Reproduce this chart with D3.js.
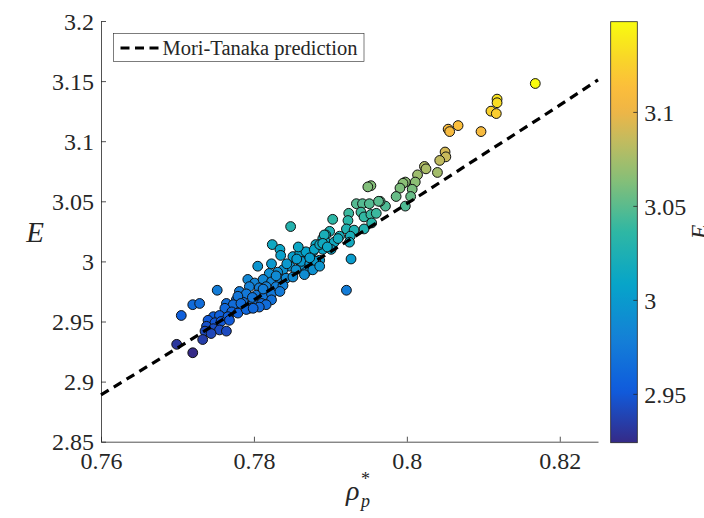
<!DOCTYPE html>
<html><head><meta charset="utf-8">
<script src="https://cdn.jsdelivr.net/npm/d3@7"></script>
<style>body{margin:0;background:#fff}svg{display:block}</style>
</head><body><svg id="c" width="704" height="518"></svg>
<script>
const rho = [0.8168,0.8118,0.8118,0.8110,0.8117,0.8067,0.8054,0.8056,0.8097,0.8050,0.8051,0.8043,0.8023,0.8025,0.8040,0.8014,0.8011,0.7998,0.7995,0.8007,0.7991,0.7986,0.8005,0.7998,0.7972,0.7965,0.7953,0.7949,0.7934,0.7942,0.7951,0.7963,0.7924,0.7940,0.7944,0.7953,0.7960,0.7954,0.7903,0.7923,0.7921,0.7931,0.7944,0.7926,0.7925,0.7912,0.7899,0.7894,0.7890,0.7894,0.7905,0.7881,0.7890,0.7901,0.7877,0.7866,0.7873,0.7927,0.7886,0.7868,0.7879,0.7862,0.7848,0.7824,0.7834,0.7835,0.7805,0.7823,0.7851,0.7860,0.7868,0.7879,0.7886,0.7892,0.7890,0.7862,0.7873,0.7881,0.7847,0.7855,0.7838,0.7831,0.7820,0.7868,0.7877,0.7886,0.7866,0.7792,0.7801,0.7812,0.7823,0.7834,0.7842,0.7851,0.7794,0.7807,0.7816,0.7829,0.7838,0.7781,0.7790,0.7803,0.7814,0.7823,0.7834,0.7777,0.7786,0.7799,0.7810,0.7823,0.7816,0.7773,0.7794,0.7807,0.7752,0.7720,0.7729,0.7705,0.7779,0.7764,0.7773,0.7762,0.7771,0.7779,0.7790,0.7799,0.7747,0.7755,0.7766,0.7740,0.7749,0.7757,0.7768,0.7738,0.7747,0.7755,0.7764,0.7736,0.7744,0.7733,0.7720,0.7699,0.7921,0.7856,0.7843,0.7829,0.7812,0.7798,0.7783,0.7896,0.7910,0.7873,0.7858];
const E = [3.148,3.135,3.132,3.125,3.123,3.113,3.110,3.108,3.108,3.091,3.087,3.084,3.079,3.077,3.074,3.072,3.066,3.066,3.065,3.060,3.061,3.054,3.054,3.046,3.046,3.050,3.063,3.062,3.048,3.048,3.048,3.050,3.040,3.041,3.037,3.039,3.040,3.032,3.035,3.034,3.027,3.026,3.027,3.021,3.016,3.021,3.025,3.022,3.019,3.016,3.016,3.014,3.010,3.010,3.008,3.007,3.004,3.002,3.001,3.000,2.997,2.997,3.029,3.014,3.010,3.005,2.996,2.998,3.004,3.007,3.008,3.010,3.014,3.022,3.015,3.000,2.998,3.000,2.996,2.993,2.993,2.991,2.990,2.991,2.993,2.996,2.989,2.985,2.982,2.985,2.983,2.985,2.986,2.987,2.979,2.978,2.979,2.979,2.980,2.975,2.973,2.972,2.972,2.973,2.975,2.968,2.966,2.966,2.965,2.968,2.964,2.962,2.961,2.962,2.976,2.964,2.965,2.955,2.971,2.965,2.964,2.961,2.958,2.957,2.960,2.961,2.954,2.955,2.954,2.951,2.949,2.950,2.951,2.946,2.944,2.943,2.942,2.942,2.940,2.935,2.924,2.931,2.976,3.002,2.998,2.988,2.977,2.970,2.965,3.012,3.019,3.003,3.012];

const mtRho = [0.760,0.770,0.780,0.790,0.800,0.810,0.820,0.825];
const mtE   = [2.889,2.928,2.968,3.008,3.048,3.089,3.130,3.151];

const xTicks = [0.76,0.78,0.80,0.82];
const yTicks = [2.85,2.9,2.95,3.0,3.05,3.1,3.15,3.2];
const cTicks = [2.95,3.0,3.05,3.1];
const legendLabel = "Mori-Tanaka prediction";

const parulaStops = [[0,"#352a87"],[0.125,"#0f5cdd"],[0.25,"#1481d6"],[0.375,"#06a4ca"],[0.5,"#2eb7a4"],[0.625,"#87bf77"],[0.72,"#c4bb5e"],[0.79,"#f0b545"],[0.85,"#fcbf3a"],[0.9,"#f9d12c"],[1,"#f9fb0e"]];

const svg = d3.select("#c");
const ink = "#262626";
const FF = '"Liberation Serif"';
const L = 101, R = 598, T = 21, B = 441.7;

const x = d3.scaleLinear().domain([0.76,0.825]).range([L,R]);
const y = d3.scaleLinear().domain([2.85,3.2]).range([B,T]);
const cDom = d3.extent(E);
const parula = d3.scaleLinear().domain(parulaStops.map(d=>d[0])).range(parulaStops.map(d=>d[1])).interpolate(d3.interpolateRgb);
const cnorm = d3.scaleLinear().domain(cDom).range([0,1]).clamp(true);
const color = v => parula(cnorm(v));
const fmt = d => String(+d.toFixed(2));

// axes
const xa = svg.append("g").attr("transform",`translate(0,${B})`)
  .call(d3.axisBottom(x).tickValues(xTicks).tickSizeInner(-5).tickSizeOuter(0).tickPadding(10).tickFormat(fmt));
const ya = svg.append("g").attr("transform",`translate(${L},0)`)
  .call(d3.axisLeft(y).tickValues(yTicks).tickSizeInner(-5).tickSizeOuter(0).tickPadding(7).tickFormat(fmt));
[xa,ya].forEach(g=>{
  g.select(".domain").attr("stroke",ink).attr("stroke-width",0.8);
  g.selectAll(".tick line").attr("stroke",ink).attr("stroke-width",0.8);
  g.selectAll(".tick text").attr("fill",ink).style("font-family",FF).style("font-size","24px");
});
ya.selectAll(".tick text").attr("dy","0.34em");
xa.selectAll(".tick text").attr("dy","0.72em");

// points
const pts = rho.map((r,i)=>({r, e:E[i]}));
svg.append("g").selectAll("circle").data(pts).join("circle")
  .attr("cx",d=>x(d.r)).attr("cy",d=>y(d.e)).attr("r",4.9)
  .attr("fill",d=>color(d.e)).attr("stroke","#111").attr("stroke-width",1);

// Mori-Tanaka line
const line = d3.line().x((d,i)=>x(mtRho[i])).y(d=>y(d)).curve(d3.curveMonotoneX);
svg.append("path").datum(mtE).attr("d",line).attr("fill","none")
  .attr("stroke","#000").attr("stroke-width",3.2).attr("stroke-dasharray","9,6");

// legend
const lg = svg.append("g");
lg.append("rect").attr("x",113.5).attr("y",33.5).attr("width",250.5).attr("height",28)
  .attr("fill","#fff").attr("stroke",ink).attr("stroke-width",0.6);
lg.append("line").attr("x1",120.5).attr("x2",158.5).attr("y1",48).attr("y2",48)
  .attr("stroke","#000").attr("stroke-width",3.2).attr("stroke-dasharray","9,5.5");
lg.append("text").attr("x",162.5).attr("y",54.5).text(legendLabel)
  .attr("fill",ink).style("font-family",FF).style("font-size","20.5px");

// axis labels
svg.append("text").attr("x",35).attr("y",242).attr("text-anchor","middle").style("font-family",FF)
  .style("font-size","29px").style("font-style","italic").attr("fill",ink).text("E");
svg.append("text").attr("x",346).attr("y",500).attr("fill",ink).style("font-family",FF)
  .style("font-size","28px").style("font-style","italic").text("ρ");
svg.append("text").attr("x",361).attr("y",485).attr("fill",ink).style("font-family",FF)
  .style("font-size","18px").text("*");
svg.append("text").attr("x",361).attr("y",507).attr("fill",ink).style("font-family",FF)
  .style("font-size","18px").style("font-style","italic").text("p");

// colorbar
const cbL = 610.7, cbR = 637.3, cbT = 21.7, cbB = 442.7;
const cy = d3.scaleLinear().domain(cDom).range([cbB,cbT]);
const defs = svg.append("defs");
const grad = defs.append("linearGradient").attr("id","pg").attr("x1",0).attr("y1",1).attr("x2",0).attr("y2",0);
d3.range(0,1.0001,0.02).forEach(t=>grad.append("stop").attr("offset",t).attr("stop-color",parula(t)));
svg.append("rect").attr("x",cbL).attr("y",cbT).attr("width",cbR-cbL).attr("height",cbB-cbT)
  .attr("fill","url(#pg)").attr("stroke",ink).attr("stroke-width",0.8);
const ca = svg.append("g").attr("transform",`translate(${cbR},0)`)
  .call(d3.axisRight(cy).tickValues(cTicks).tickSizeInner(-4).tickSizeOuter(0).tickPadding(7).tickFormat(fmt));
ca.select(".domain").remove();
ca.selectAll(".tick line").attr("stroke",ink).attr("stroke-width",0.8);
ca.selectAll(".tick text").attr("fill",ink).attr("dy","0.34em").style("font-family",FF).style("font-size","24px");
svg.append("text").attr("transform","translate(707,232) rotate(-90)").attr("text-anchor","middle").style("font-family",FF)
  .style("font-size","24px").style("font-style","italic").attr("fill",ink).text("E");
</script></body></html>
